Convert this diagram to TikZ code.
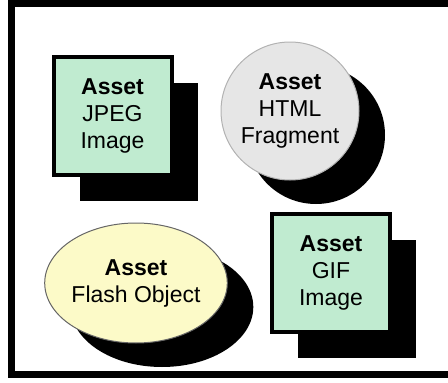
\documentclass[tikz,border=0pt]{standalone}
\usepackage{fontspec}
\setmainfont{Liberation Sans}
\usepackage{xcolor}
\usetikzlibrary{shapes.geometric,shadows}
\definecolor{assetgreen}{RGB}{192,235,208}
\definecolor{assetgray}{RGB}{230,230,230}
\definecolor{assetyellow}{RGB}{252,250,200}
\newcommand{\tbf}{\textbf}

\begin{document}
\begin{tikzpicture}[x=1pt,y=-1pt,
	asset/.style={align=center, inner sep=0pt,
		font=\fontsize{23}{27}\selectfont},
	blackshadow/.style={drop shadow={shadow xshift=26pt, shadow yshift=-#1pt, fill=black, opacity=1}},
	imgbox/.style={asset, rectangle, draw=black, line width=4pt, fill=assetgreen,
		minimum width=118pt, minimum height=118pt, blackshadow=26},
	htmlball/.style={asset, circle, draw=gray!60, line width=1pt, fill=assetgray,
		minimum size=138pt, blackshadow=24},
	flashegg/.style={asset, ellipse, draw=gray!80!black, line width=1pt, fill=assetyellow,
		minimum width=178pt, minimum height=120pt, blackshadow=24}]
	\useasboundingbox (0,0) rectangle (448,383);
	% frame, open on the right
	\coordinate (tr) at (448,3);
	\coordinate (tl) at (11.5,3);
	\coordinate (bl) at (11.5,374.5);
	\coordinate (br) at (448,374.5);
	\draw [line width=7pt] (tr) -- (tl) -- (bl) -- (br);
	\node [imgbox] (jpeg) at (112.5,116) { \tbf{Asset}\\JPEG\\Image };
	\node [htmlball] (html) at (290,111) { \tbf{Asset}\\HTML\\Fragment };
	\node [flashegg] (flash) at (136,283) { \tbf{Asset}\\Flash Object };
	\node [imgbox] (gif) at (331,273) { \tbf{Asset}\\GIF\\Image };
\end{tikzpicture}
\end{document}
